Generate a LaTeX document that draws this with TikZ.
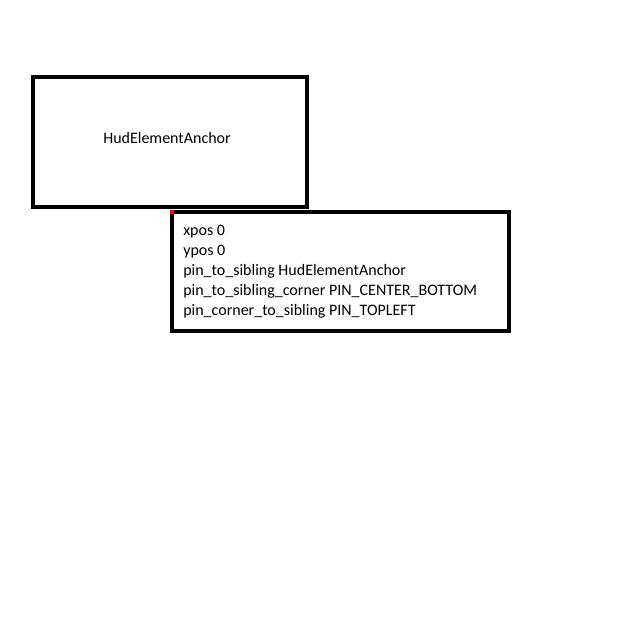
\documentclass[tikz,border=0pt]{standalone}
\usepackage{fontspec}
\setmainfont{Carlito}
\begin{document}
\begin{tikzpicture}[x=0.75pt,y=-0.75pt,
  box/.style={draw=black,line width=3pt,rectangle,inner sep=0pt,miter limit=10},
  txt/.style={inner sep=0pt,font=\fontsize{12}{15}\selectfont,text=black},
  txtline/.style={txt,anchor=base west}]
\useasboundingbox[fill=white] (0,0) rectangle (640,640);
\node[box,minimum width=205.5pt,minimum height=97.5pt] (anchorbox) at (170,142) {};
\node[txt,anchor=base] (title) at (167,143) {HudElementAnchor};
\node[box,minimum width=252.75pt,minimum height=89.25pt] (propbox) at (340.5,271.5) {};
\node[txtline] (l1) at (183,235.5) {xpos 0};
\node[txtline] (l2) at (183,255.5) {ypos 0};
\node[txtline] (l3) at (183,275.5) {pin\_to\_sibling HudElementAnchor};
\node[txtline] (l4) at (183,295.5) {pin\_to\_sibling\_corner PIN\_CENTER\_BOTTOM};
\node[txtline] (l5) at (183,315.5) {pin\_corner\_to\_sibling PIN\_TOPLEFT};
\fill[red] (propbox.north west) rectangle ++(4,4);
\end{tikzpicture}
\end{document}
